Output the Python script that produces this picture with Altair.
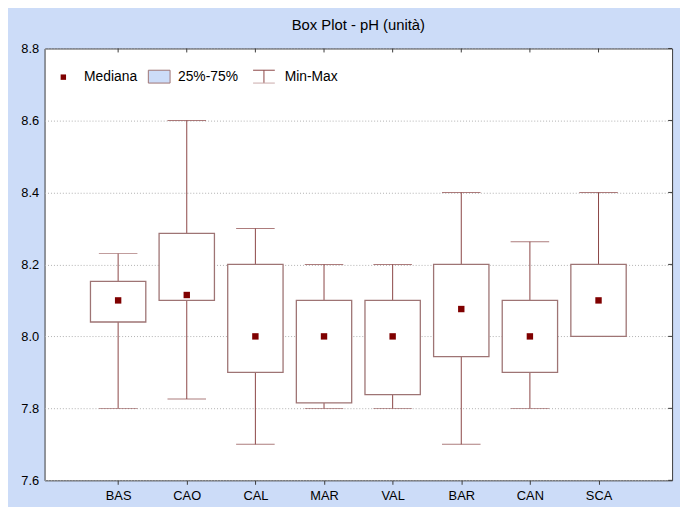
import altair as alt
import pandas as pd

# ---- data ----
categories = ["BAS", "CAO", "CAL", "MAR", "VAL", "BAR", "CAN", "SCA"]
mins    = [7.80, 7.826, 7.70, 7.80, 7.80, 7.70, 7.80, 8.00]
q1s     = [8.040, 8.100, 7.90, 7.815, 7.838, 7.944, 7.90, 8.00]
medians = [8.10, 8.115, 8.00, 8.00, 8.00, 8.076, 8.00, 8.10]
q3s     = [8.153, 8.286, 8.20, 8.10, 8.10, 8.20, 8.10, 8.20]
maxs    = [8.23, 8.60, 8.30, 8.20, 8.20, 8.40, 8.263, 8.40]
y_ticks = [7.6, 7.8, 8.0, 8.2, 8.4, 8.6, 8.8]
legend_labels = ["Mediana", "25%-75%", "Min-Max"]
title_text = "Box Plot - pH (unità)"

df = pd.DataFrame({
    "cat": categories,
    "pos": list(range(1, len(categories) + 1)),
    "min": mins, "q1": q1s, "median": medians, "q3": q3s, "max": maxs,
})
grid_df = pd.DataFrame({"v": y_ticks})
one = pd.DataFrame({"a": [0]})

W, H = 635, 437
FONT = "Liberation Sans"
BG = "#CCDCF8"
WHISK = "#8A4444"
BOXC = "#9E7474"
MED = "#7F0000"
FRAME = "#3A3A3A"

xs = alt.Scale(domain=[0, 9], nice=False, zero=False)
ys = alt.Scale(domain=[7.6, 8.8], nice=False, zero=False)

label_expr = "[" + ",".join("'%s'" % c for c in categories) + "][datum.value - 1]"
xaxis = alt.Axis(values=list(range(1, len(categories) + 1)), labelExpr=label_expr,
                 title=None, grid=False, domain=False, tickSize=4, tickColor=FRAME,
                 labelFont=FONT, labelFontSize=13, labelColor="black", labelPadding=5)
yaxis = alt.Axis(values=y_ticks, format=".1f", title=None, grid=True,
                 gridDash=[1, 2], gridColor="#B0B0B0", gridWidth=1, domain=False,
                 tickSize=0, labelFont=FONT, labelFontSize=13, labelColor="black",
                 labelPadding=6)

X = alt.X("pos:Q", scale=xs, axis=xaxis)

def Y(field):
    return alt.Y(field + ":Q", scale=ys, axis=yaxis)

base = alt.Chart(df)

whisk = base.mark_rule(color=WHISK, strokeWidth=1).encode(x=X, y=Y("min"), y2="max")
cap_top = base.mark_tick(orient="horizontal", size=39, thickness=1, color=WHISK).encode(x=X, y=Y("max"))
cap_bot = base.mark_tick(orient="horizontal", size=39, thickness=1, color=WHISK).encode(x=X, y=Y("min"))
box = base.mark_bar(size=56, fill="white", stroke=BOXC, strokeWidth=1.3).encode(x=X, y=Y("q1"), y2="q3")
med = base.mark_square(size=42, color=MED, opacity=1).encode(x=X, y=Y("median"))

top_ticks = base.mark_rule(color=FRAME).encode(x=X, y=alt.value(0), y2=alt.value(4))
right_ticks = alt.Chart(grid_df).mark_rule(color=FRAME).encode(
    x=alt.value(W - 4), x2=alt.value(W), y=Y("v"))

# ---- legend (drawn inside the plot, top-left) ----
LY = 29
leg_sq = alt.Chart(one).mark_square(size=30, color=MED, opacity=1).encode(x=alt.value(19), y=alt.value(LY))
leg_t1 = alt.Chart(one).mark_text(text=legend_labels[0], align="left", baseline="middle",
                                   font=FONT, fontSize=14, color="black").encode(x=alt.value(40), y=alt.value(LY))
leg_box = alt.Chart(one).mark_rect(fill=BG, stroke=BOXC, strokeWidth=1).encode(
    x=alt.value(105), x2=alt.value(127), y=alt.value(22), y2=alt.value(35))
leg_t2 = alt.Chart(one).mark_text(text=legend_labels[1], align="left", baseline="middle",
                                   font=FONT, fontSize=14, color="black").encode(x=alt.value(135), y=alt.value(LY))
leg_w1 = alt.Chart(one).mark_rule(color=WHISK).encode(x=alt.value(211), x2=alt.value(233), y=alt.value(22))
leg_w2 = alt.Chart(one).mark_rule(color=WHISK).encode(x=alt.value(222), y=alt.value(22), y2=alt.value(35))
leg_w3 = alt.Chart(one).mark_rule(color="#C9A9A9").encode(x=alt.value(211), x2=alt.value(233), y=alt.value(35))
leg_t3 = alt.Chart(one).mark_text(text=legend_labels[2], align="left", baseline="middle",
                                   font=FONT, fontSize=14, color="black").encode(x=alt.value(243), y=alt.value(LY))

chart = alt.layer(
    whisk, cap_top, cap_bot, box, med, top_ticks, right_ticks,
    leg_sq, leg_t1, leg_box, leg_t2, leg_w1, leg_w2, leg_w3, leg_t3,
).properties(
    width=W, height=H,
    title=alt.Title(title_text, font=FONT, fontSize=15, fontWeight="normal",
                    color="black", anchor="middle", frame="group", offset=10),
    autosize=alt.AutoSizeParams(type="none"),
    padding={"left": 37, "top": 38, "right": 8, "bottom": 24},
    background=BG,
).configure_view(
    stroke=FRAME, strokeWidth=1, fill="white"
)

chart.save("out.html", embed_options={"renderer": "svg", "actions": False})
